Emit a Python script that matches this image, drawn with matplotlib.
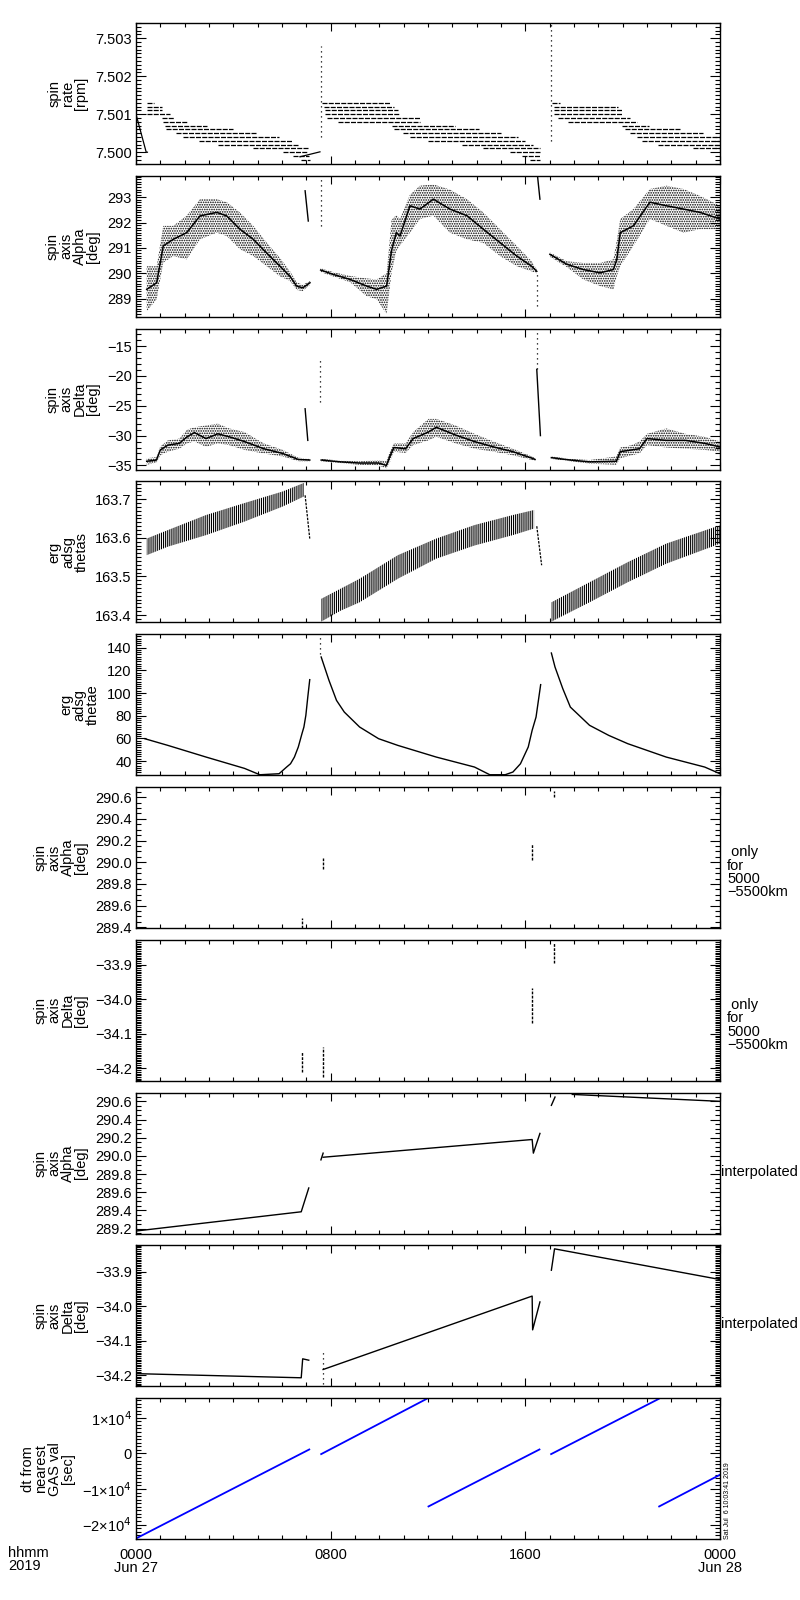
import matplotlib
matplotlib.use("Agg")
import matplotlib.pyplot as plt
from matplotlib.ticker import MultipleLocator, FuncFormatter

plt.rcParams['font.family'] = ['Liberation Sans', 'DejaVu Sans']
plt.rcParams['hatch.linewidth'] = 0.8

# tempo em horas desde 0000 Jun 27 2019

# painel 1: spin rate, linhas quantizadas (nivel, t inicio, t fim)
rate_rows = [
    (7.5013, 0.44, 0.74), (7.5012, 0.44, 1.07), (7.5011, 0.44, 1.05),
    (7.5010, 0.44, 1.41), (7.5009, 1.05, 1.55), (7.5008, 1.12, 2.08),
    (7.5007, 1.19, 2.90), (7.5006, 1.22, 4.00), (7.5005, 1.65, 4.97),
    (7.5004, 1.95, 5.86), (7.5003, 2.60, 6.40), (7.5002, 3.38, 6.67),
    (7.5001, 4.80, 7.08), (7.5000, 6.05, 7.08), (7.4999, 6.46, 7.12),
    (7.4998, 6.80, 7.15),
    (7.5013, 7.63, 10.44), (7.5012, 7.71, 10.60), (7.5011, 7.78, 10.76),
    (7.5010, 7.78, 10.85), (7.5009, 7.85, 11.67), (7.5008, 8.30, 11.67),
    (7.5007, 10.50, 13.10), (7.5006, 10.60, 14.10), (7.5005, 10.97, 15.00),
    (7.5004, 11.26, 15.70), (7.5003, 12.00, 16.00), (7.5002, 13.40, 16.30),
    (7.5001, 14.26, 16.60), (7.5000, 15.37, 16.60), (7.4999, 15.86, 16.60),
    (7.4998, 16.20, 16.60),
    (7.5013, 17.08, 17.42), (7.5012, 17.18, 19.80), (7.5011, 17.18, 19.97),
    (7.5010, 17.18, 19.97), (7.5009, 17.34, 20.30), (7.5008, 17.75, 20.60),
    (7.5007, 19.97, 21.10), (7.5006, 20.10, 22.36), (7.5005, 20.30, 23.30),
    (7.5004, 20.60, 24.00), (7.5003, 20.80, 24.00), (7.5002, 21.45, 24.00),
    (7.5001, 22.90, 24.00),
]
rate_lines_t = [[0.0, 0.42, 0.47], [6.74, 7.56]]
rate_lines_v = [[7.5010, 7.5000, 7.5000], [7.49988, 7.50001]]
rate_spikes = [(7.59, 7.5004, 7.5028), (17.05, 7.5003, 7.5034)]

# painel 2: spin axis alpha (nuvem de pontos: centro, minimo, maximo)
alpha_t = [
    [0.44, 0.85, 1.12, 1.53, 2.08, 2.63, 3.32, 3.73, 4.27, 4.82, 5.37, 5.92, 6.33, 6.60, 6.85, 7.15],
    [7.59, 8.10, 8.80, 9.48, 9.89, 10.30, 10.50, 10.70, 10.85, 11.26, 11.67, 12.22, 12.90, 13.60,
     14.27, 14.96, 15.65, 16.26, 16.47],
    [17.01, 17.70, 18.38, 19.07, 19.62, 19.76, 19.90, 20.44, 21.12, 21.80, 22.50, 23.18, 24.00],
]
alpha_c = [
    [289.37, 289.63, 291.08, 291.34, 291.60, 292.26, 292.40, 292.26, 291.74, 291.34, 290.80, 290.28, 289.88, 289.50, 289.43, 289.63],
    [290.13, 289.96, 289.76, 289.50, 289.37, 289.50, 290.90, 291.60, 291.47, 292.66, 292.53, 292.92, 292.53, 292.27,
     291.74, 291.21, 290.68, 290.28, 290.08],
    [290.75, 290.36, 290.15, 290.02, 290.15, 290.55, 291.60, 291.87, 292.80, 292.66, 292.53, 292.40, 292.14],
]
alpha_lo = [
    [288.51, 288.98, 290.42, 290.68, 290.55, 291.34, 291.60, 291.47, 290.95, 290.68, 290.28, 289.88, 289.70, 289.35, 289.30, 289.55],
    [290.05, 289.88, 289.65, 289.10, 288.98, 288.40, 290.00, 290.90, 291.10, 291.60, 292.14, 292.27, 291.60, 291.34,
     291.20, 290.68, 290.28, 290.08, 290.00],
    [290.65, 290.25, 289.76, 289.50, 289.37, 289.90, 290.28, 291.08, 292.14, 291.87, 291.60, 291.74, 291.74],
]
alpha_hi = [
    [290.28, 290.28, 291.87, 291.87, 292.27, 292.92, 292.92, 292.80, 292.40, 291.87, 291.21, 290.60, 290.08, 289.65, 289.55, 289.70],
    [290.20, 290.05, 289.90, 289.80, 289.76, 290.00, 292.10, 292.30, 292.14, 293.10, 293.45, 293.50, 293.30, 292.92,
     292.40, 291.74, 291.08, 290.48, 290.15],
    [290.82, 290.48, 290.41, 290.41, 290.55, 291.30, 292.14, 292.53, 293.32, 293.45, 293.32, 293.05, 292.66],
]
alpha_steep_t = [[6.95, 7.08], [16.50, 16.60]]
alpha_steep_v = [[293.25, 292.06], [293.84, 292.92]]
alpha_spikes = [(7.59, 291.87, 293.71), (16.47, 288.70, 290.00)]

# painel 3: spin axis delta
delta_t = [
    [0.44, 0.84, 1.00, 1.31, 1.78, 2.10, 2.40, 2.88, 3.36, 3.83, 4.46, 5.25, 6.03, 6.67, 7.14],
    [7.61, 8.40, 9.19, 9.97, 10.29, 10.45, 10.60, 11.08, 11.39, 12.02, 12.34, 13.13, 13.91, 14.70,
     15.49, 16.28, 16.40],
    [17.07, 17.85, 18.64, 19.74, 19.90, 20.37, 20.69, 21.00, 21.79, 22.58, 23.37, 24.00],
]
delta_c = [
    [-34.3, -34.1, -32.4, -31.6, -31.3, -30.2, -29.5, -30.5, -29.7, -30.2, -31.0, -32.2, -33.0, -34.0, -34.1],
    [-34.1, -34.4, -34.6, -34.6, -35.0, -33.3, -32.0, -32.2, -30.5, -29.4, -28.6, -29.9, -31.0, -31.9,
     -32.7, -33.8, -34.0],
    [-33.7, -34.1, -34.4, -34.3, -32.7, -32.4, -32.2, -30.5, -30.8, -30.8, -31.3, -31.9],
]
delta_lo = [
    [-34.9, -34.5, -33.3, -32.7, -32.2, -31.3, -31.0, -31.9, -31.3, -31.6, -32.4, -33.0, -33.5, -34.3, -34.3],
    [-34.3, -34.6, -34.9, -35.0, -35.5, -34.3, -32.7, -32.9, -31.6, -30.8, -30.2, -31.3, -32.2, -32.7,
     -33.3, -34.1, -34.2],
    [-33.9, -34.3, -34.7, -34.9, -33.8, -33.3, -33.0, -31.6, -32.0, -32.2, -32.4, -32.7],
]
delta_hi = [
    [-33.8, -33.6, -31.8, -30.8, -30.5, -29.0, -28.6, -28.3, -28.0, -28.8, -29.4, -31.3, -32.4, -33.7, -33.9],
    [-33.9, -34.2, -34.3, -34.1, -34.3, -32.5, -31.3, -31.3, -29.4, -27.2, -27.2, -28.3, -29.7, -31.0,
     -32.2, -33.5, -33.8],
    [-33.5, -33.9, -34.1, -33.5, -32.0, -31.6, -31.0, -29.7, -28.8, -29.7, -30.2, -31.0],
]
delta_steep_t = [[6.95, 7.06], [16.47, 16.62]]
delta_steep_v = [[-25.5, -30.8], [-18.9, -30.0]]
delta_spikes = [(7.56, -24.4, -17.2), (16.47, -18.9, -12.5)]

# painel 4: erg adsg thetas (faixa)
thetas_t = [
    [0.44, 1.31, 2.88, 4.46, 6.03, 6.90],
    [7.61, 8.40, 9.19, 10.76, 12.34, 13.91, 15.49, 16.36],
    [17.07, 18.64, 20.21, 21.79, 23.84, 24.00],
]
thetas_lo = [
    [163.555, 163.577, 163.607, 163.642, 163.681, 163.707],
    [163.383, 163.411, 163.433, 163.494, 163.546, 163.580, 163.607, 163.624],
    [163.383, 163.433, 163.485, 163.533, 163.581, 163.585],
]
thetas_hi = [
    [163.598, 163.620, 163.659, 163.690, 163.720, 163.742],
    [163.442, 163.468, 163.494, 163.555, 163.598, 163.633, 163.659, 163.672],
    [163.433, 163.485, 163.537, 163.585, 163.629, 163.632],
]
thetas_drop_t = [[6.95, 7.14], [16.47, 16.67]]
thetas_drop_v = [[163.710, 163.598], [163.630, 163.529]]

# painel 5: erg adsg thetae
thetae_t = [
    [0.36, 1.31, 2.88, 4.46, 5.09, 5.88, 6.19, 6.35, 6.51, 6.67, 6.82, 6.90, 6.98, 7.06, 7.14],
    [7.61, 7.93, 8.24, 8.56, 9.19, 9.97, 10.76, 12.34, 13.91, 14.54, 15.17, 15.49, 15.80, 16.12,
     16.28, 16.44, 16.63],
    [17.07, 17.22, 17.54, 17.85, 18.64, 19.43, 20.21, 21.79, 22.58, 23.37, 24.00],
]
thetae_v = [
    [59.7, 53.8, 43.5, 33.5, 27.9, 28.8, 34.7, 37.6, 43.5, 52.4, 64.1, 70.0, 80.3, 96.5, 111.8],
    [131.8, 111.2, 93.5, 83.2, 70.0, 59.7, 53.8, 43.5, 34.7, 27.9, 27.9, 30.3, 37.6, 52.4,
     67.1, 78.8, 107.4],
    [135.3, 122.9, 103.8, 87.6, 71.5, 62.6, 55.3, 43.5, 39.1, 34.7, 28.8],
]
thetae_spikes = [(7.56, 134.7, 151.2)]

# paineis 6 e 7: so para 5000-5500 km (t, minimo, maximo)
alpha_km = [(6.82, 289.390, 289.486), (7.69, 289.935, 290.040),
            (16.28, 290.020, 290.170), (17.18, 290.600, 290.656)]
delta_km = [(6.82, -34.211, -34.153), (7.69, -34.226, -34.138),
            (16.28, -34.070, -33.968), (17.18, -33.895, -33.836)]

# paineis 8 e 9: interpolados
alpha_int_t = [[0.05, 6.79, 7.10], [7.60, 7.69], [7.69, 16.28, 16.33, 16.60],
               [17.07, 17.22], [17.93, 24.00]]
alpha_int_v = [[289.175, 289.385, 289.647], [289.956, 290.030], [289.985, 290.180, 290.030, 290.247],
               [290.556, 290.647], [290.676, 290.600]]
delta_int_t = [[0.00, 6.79, 6.85, 7.10], [7.69, 16.28, 16.30, 16.60],
               [17.07, 17.20, 24.00]]
delta_int_v = [[-34.196, -34.208, -34.153, -34.157], [-34.184, -33.971, -34.069, -33.988],
               [-33.896, -33.834, -33.923]]
delta_int_spikes = [(7.69, -34.225, -34.130)]

# painel 10: dt do valor GAS mais proximo (segmentos retos)
dt_t = [[0.00, 7.12], [7.61, 11.94], [12.02, 16.58], [17.06, 21.48], [21.50, 24.00]]
dt_v = [[-23900, 1100], [-200, 15300], [-14900, 1100], [-200, 15300], [-14900, -6000]]

# limites e ticks dos eixos y
ylims = [(7.49969, 7.5034), (288.29, 293.84), (-35.7, -12.06), (163.381, 163.746),
         (27.5, 151.9), (289.394, 290.693), (-34.236, -33.828), (289.145, 290.696),
         (-34.233, -33.824), (-24100, 15500)]
ymajor = [0.001, 1, 5, 0.1, 20, 0.2, 0.1, 0.2, 0.1, 10000]
yminor = [0.0001, 0.1, 1, 0.01, 2, 0.05, 0.005, 0.05, 0.005, 1000]
ydec = [3, 0, 0, 1, 0, 1, 1, 1, 1, None]
ylabels = ["spin\nrate\n[rpm]", "spin\naxis\nAlpha\n[deg]", "spin\naxis\nDelta\n[deg]",
           "erg\nadsg\nthetas", "erg\nadsg\nthetae", "spin\naxis\nAlpha\n[deg]",
           "spin\naxis\nDelta\n[deg]", "spin\naxis\nAlpha\n[deg]", "spin\naxis\nDelta\n[deg]",
           "dt from\nnearest\nGAS val\n[sec]"]


def fmt_dec(n):
    def f(v, pos):
        return f"{v:.{n}f}".replace("-", "\u2212")
    return f


def fmt_sci(v, pos):
    k = int(round(v / 10000))
    if k == 0:
        return "0"
    s = "\u2212" if k < 0 else ""
    return s + f"{abs(k)}\u00d710$^4$"


fig = plt.figure(figsize=(8, 16), dpi=100)
W, H = 800, 1600
axes = []
for i in range(10):
    top = 23 + i * 152.8
    ax = fig.add_axes([136 / W, 1 - (top + 141) / H, 584 / W, 141 / H])
    axes.append(ax)
    ax.set_xlim(0, 24)
    ax.set_ylim(*ylims[i])
    ax.xaxis.set_major_locator(MultipleLocator(8))
    ax.xaxis.set_minor_locator(MultipleLocator(1))
    ax.yaxis.set_major_locator(MultipleLocator(ymajor[i]))
    ax.yaxis.set_minor_locator(MultipleLocator(yminor[i]))
    if ydec[i] is None:
        ax.yaxis.set_major_formatter(FuncFormatter(fmt_sci))
    else:
        ax.yaxis.set_major_formatter(FuncFormatter(fmt_dec(ydec[i])))
    ax.tick_params(which='both', direction='in', top=True, right=True,
                   width=0.8, labelsize=10.5, colors='k')
    ax.tick_params(axis='y', which='major', length=7.2, pad=3)
    ax.tick_params(axis='y', which='minor', length=3.6)
    ax.tick_params(axis='x', which='major', length=5.5, pad=6)
    ax.tick_params(axis='x', which='minor', length=3)
    for sp in ax.spines.values():
        sp.set_linewidth(1.0)
    ax.set_ylabel(ylabels[i], fontsize=10.5, linespacing=0.95, labelpad=5)
    if i < 9:
        ax.set_xticklabels([])

# 1: spin rate
ax = axes[0]
for lev, t0, t1 in rate_rows:
    ax.hlines(lev, t0, t1, colors='k', linewidth=0.9, linestyles=(0, (4, 1)))
for t, v in zip(rate_lines_t, rate_lines_v):
    ax.plot(t, v, color='k', linewidth=0.9)
for t, v0, v1 in rate_spikes:
    ax.vlines(t, v0, v1, colors='k', linewidth=0.9, linestyles=(0, (1, 3)))

# 2 e 3: nuvens
for ax, ts, cs, los, his, st, sv, spk in [
        (axes[1], alpha_t, alpha_c, alpha_lo, alpha_hi, alpha_steep_t, alpha_steep_v, alpha_spikes),
        (axes[2], delta_t, delta_c, delta_lo, delta_hi, delta_steep_t, delta_steep_v, delta_spikes)]:
    for t, c, lo, hi in zip(ts, cs, los, his):
        ax.fill_between(t, lo, hi, facecolor='none', edgecolor='k', hatch='.......', linewidth=0)
        ax.plot(t, c, color='k', linewidth=1.1)
    for t, v in zip(st, sv):
        ax.plot(t, v, color='k', linewidth=1.0)
    for t, v0, v1 in spk:
        ax.vlines(t, v0, v1, colors='k', linewidth=0.9, linestyles=(0, (1, 3)))

# 4: thetas
ax = axes[3]
for t, lo, hi in zip(thetas_t, thetas_lo, thetas_hi):
    ax.fill_between(t, lo, hi, facecolor='none', edgecolor='k', hatch='||||||||', linewidth=0)
for t, v in zip(thetas_drop_t, thetas_drop_v):
    ax.plot(t, v, color='k', linewidth=0.9, linestyle=(0, (2, 1)))

# 5: thetae
ax = axes[4]
for t, v in zip(thetae_t, thetae_v):
    ax.plot(t, v, color='k', linewidth=1.0)
for t, v0, v1 in thetae_spikes:
    ax.vlines(t, v0, v1, colors='k', linewidth=0.9, linestyles=(0, (1, 3)))

# 6 e 7: 5000-5500 km
for ax, segs in [(axes[5], alpha_km), (axes[6], delta_km)]:
    for t, v0, v1 in segs:
        ax.vlines(t, v0, v1, colors='k', linewidth=1.0, linestyles=(0, (2, 1)))
    ax.text(1.012, 0.395, " only\nfor\n5000\n\u22125500km", transform=ax.transAxes,
            ha='left', va='center', fontsize=10.5, linespacing=0.95)

# 8 e 9: interpolados
for t, v in zip(alpha_int_t, alpha_int_v):
    axes[7].plot(t, v, color='k', linewidth=1.0)
for t, v in zip(delta_int_t, delta_int_v):
    axes[8].plot(t, v, color='k', linewidth=1.0)
for t, v0, v1 in delta_int_spikes:
    axes[8].vlines(t, v0, v1, colors='k', linewidth=0.9, linestyles=(0, (1, 3)))
for ax in (axes[7], axes[8]):
    ax.text(1.002, 0.44, "interpolated", transform=ax.transAxes,
            ha='left', va='center', fontsize=10.5)

# 10: dt
ax = axes[9]
for t, v in zip(dt_t, dt_v):
    ax.plot(t, v, color='#0000ff', linewidth=1.3)
ax.set_xticks([0, 8, 16, 24])
ax.set_xticklabels(["0000\nJun 27", "0800", "1600", "0000\nJun 28"], fontsize=10.5, linespacing=0.95)
ax.text(1.006, 0.0, "Sat Jul  6 10:03:41 2019", transform=ax.transAxes,
        rotation=90, ha='left', va='bottom', fontsize=5)

fig.text(8 / W, 1 - 1546 / H, "hhmm\n2019", ha='left', va='top', fontsize=10.5, linespacing=0.95)

fig.savefig("out.png", dpi=100)
